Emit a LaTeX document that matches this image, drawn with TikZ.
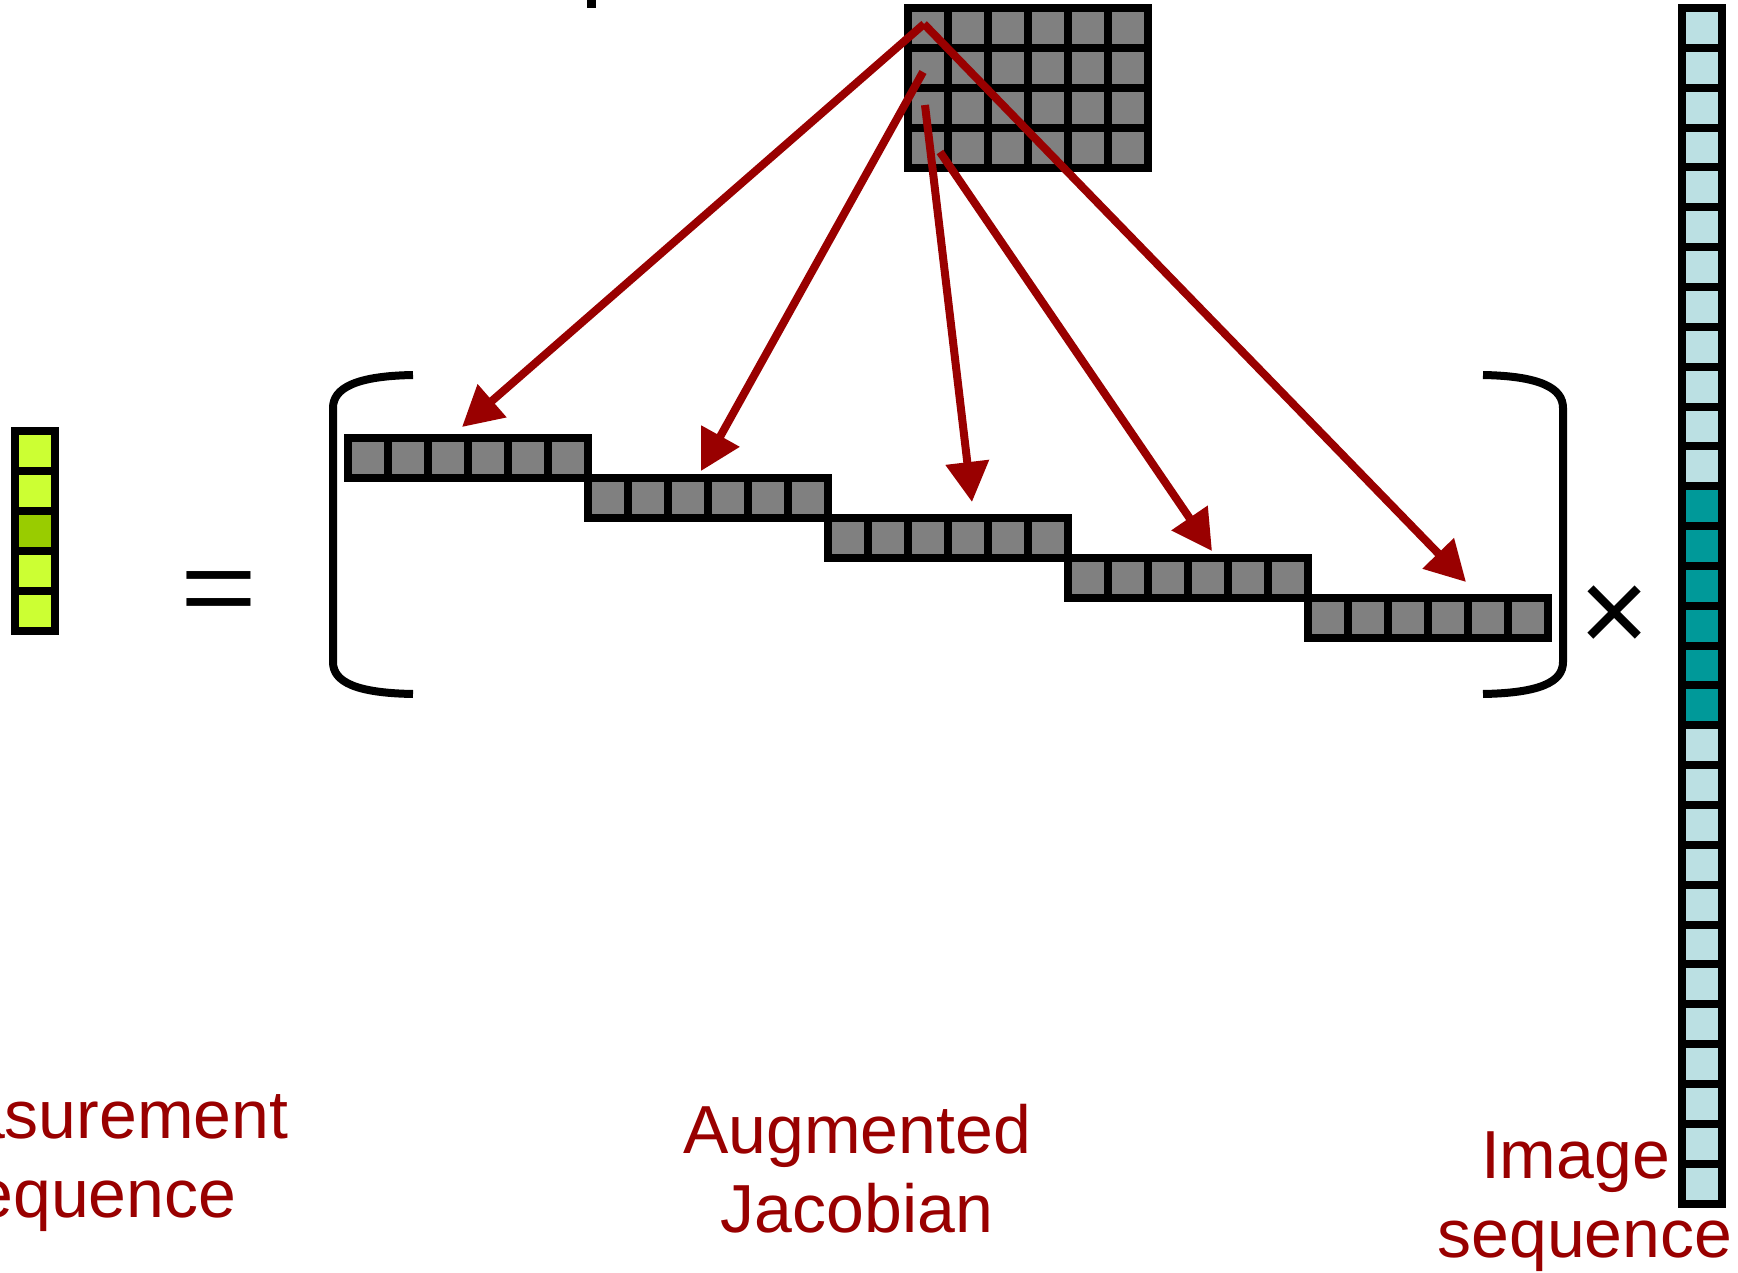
\documentclass[tikz,border=0pt]{standalone}
\usepackage{fontspec}
\setmainfont{Liberation Sans}
\usetikzlibrary{arrows.meta}

\definecolor{measlight}{HTML}{CCFF33}
\definecolor{measdark}{HTML}{99CC00}
\definecolor{jacgray}{HTML}{808080}
\definecolor{imglight}{HTML}{BBE0E3}
\definecolor{imgdark}{HTML}{009999}
\definecolor{labelred}{HTML}{990000}

\begin{document}
\begin{tikzpicture}[x=1pt,y=-1pt,
  cell/.style={shape=rectangle, draw=black, line width=8pt, minimum size=40pt,
               inner sep=0pt, outer sep=0pt},
  link/.style={draw=labelred, line width=8pt, -{Triangle[length=40pt,width=42pt]}},
  bracket/.style={draw=black, line width=8pt},
  caption/.style={text=labelred, font=\fontsize{68}{79}\selectfont, align=center,
                  inner sep=0pt, anchor=base},
  opsign/.style={text=black, inner sep=0pt}]

\useasboundingbox (0,0) rectangle (1738,1273);

% measurement vector (5 entries, the middle one highlighted)
\foreach \i in {0,...,4} {
  \ifnum\i=2 \def\cellcol{measdark}\else\def\cellcol{measlight}\fi
  \node[cell, fill=\cellcol] (meas-\i) at (35, 451+40*\i) {};
}

% equals sign
\node[opsign, font=\fontsize{108}{108}\selectfont] (equals) at (218.5,598)
  {\scalebox{1.22}[1]{=}};

% left and right brackets of the augmented Jacobian
\draw[bracket] (413,375) .. controls (356,376) and (333,388) .. (333,408)
  -- (333,662) .. controls (333,682) and (356,693) .. (413,694);
\draw[bracket] (1483,375) .. controls (1540,376) and (1563,388) .. (1563,408)
  -- (1563,662) .. controls (1563,682) and (1540,693) .. (1483,694);

% staircase of the augmented Jacobian: 5 blocks of 6 cells
\foreach \k in {0,...,4} {
  \foreach \j in {0,...,5} {
    \node[cell, fill=jacgray] (jac-\k-\j) at (368+240*\k+40*\j, 458+40*\k) {};
  }
}

% multiplication sign
\node[opsign, font=\fontsize{120}{120}\selectfont] (times) at (1614.5,619.5) {×};

% image sequence vector (30 entries, frames 12 to 17 highlighted)
\foreach \i in {0,...,29} {
  \ifnum\i<12 \def\cellcol{imglight}\else
    \ifnum\i>17 \def\cellcol{imglight}\else\def\cellcol{imgdark}\fi\fi
  \node[cell, fill=\cellcol] (img-\i) at (1702, 28+39.85*\i) {};
}

% single Jacobian block (4 x 6)
\foreach \i in {0,...,3} {
  \foreach \j in {0,...,5} {
    \node[cell, fill=jacgray] (blk-\i-\j) at (928+40*\j, 28+40*\i) {};
  }
}

% small mark at the top edge
\fill[black] (587,0) rectangle (596,8);

% arrow ends
\coordinate (src-a) at (924,24);
\coordinate (src-b) at (923,72);
\coordinate (src-c) at (925,105);
\coordinate (src-d) at (940,152);
\coordinate (dst-1) at (462,427);
\coordinate (dst-2) at (701,471);
\coordinate (dst-3) at (972,502);
\coordinate (dst-4) at (1212,551);
\coordinate (dst-5) at (1466,582);

\draw[link] (src-a) -- (dst-1);
\draw[link] (src-a) -- (dst-5);
\draw[link] (src-b) -- (dst-2);
\draw[link] (src-c) -- (dst-3);
\draw[link] (src-d) -- (dst-4);

% captions (anchored at the baseline of their second line)
\node[caption] (meas-label) at (89,1217) {Measurement\kern17pt\\sequence};
\node[caption] (jac-label) at (857,1232) {Augmented\\Jacobian};
\node[caption] (img-label) at (1585,1257) {Image\kern19pt\\sequence};

\end{tikzpicture}
\end{document}
